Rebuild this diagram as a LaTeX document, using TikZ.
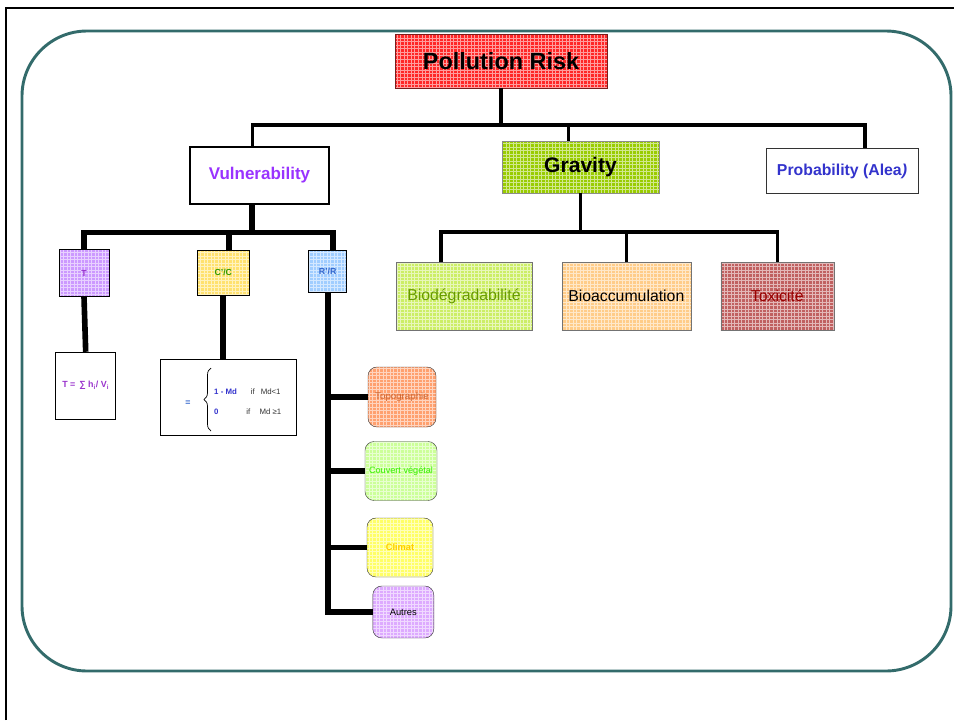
\documentclass[tikz,border=0pt]{standalone}
\usepackage{fontspec}
\setmainfont{Liberation Sans}
\usetikzlibrary{patterns,decorations.pathreplacing}

\definecolor{frameteal}{RGB}{51,107,107}
\definecolor{riskred}{RGB}{255,40,40}
\definecolor{riskedge}{RGB}{120,30,30}
\definecolor{gravgreen}{RGB}{153,204,0}
\definecolor{biogreen}{RGB}{204,238,102}
\definecolor{biotext}{RGB}{102,153,0}
\definecolor{accorange}{RGB}{255,204,136}
\definecolor{toxred}{RGB}{192,96,96}
\definecolor{toxtext}{RGB}{153,0,0}
\definecolor{tlilac}{RGB}{204,153,255}
\definecolor{ttext}{RGB}{153,51,204}
\definecolor{cyellow}{RGB}{255,225,110}
\definecolor{ctext}{RGB}{51,153,0}
\definecolor{rblue}{RGB}{160,205,255}
\definecolor{rtext}{RGB}{51,102,204}
\definecolor{topoorange}{RGB}{255,160,110}
\definecolor{topotext}{RGB}{204,102,51}
\definecolor{covgreen}{RGB}{204,255,153}
\definecolor{covtext}{RGB}{51,238,0}
\definecolor{climyellow}{RGB}{255,255,102}
\definecolor{climtext}{RGB}{255,204,0}
\definecolor{autlilac}{RGB}{221,170,255}
\definecolor{vulpurple}{RGB}{153,51,255}
\definecolor{probblue}{RGB}{51,51,204}
\definecolor{casesblue}{RGB}{51,51,204}

\newcommand{\pxu}{0.3mm}
\newcommand{\sz}[1]{\fontsize{#1}{#1}\selectfont}

\tikzset{
	box/.style 2 args={draw, minimum width=#1*\pxu, minimum height=#2*\pxu, inner sep=0pt, align=center},
	hatch/.style={preaction={fill=#1}, pattern=grid, pattern color=#1!45!white},
	leaf/.style={rounded corners=2.7mm, draw=black!75},
	thinlink/.style={line width=2.6pt},
	thicklink/.style={line width=4.8pt}
}

\begin{document}
\begin{tikzpicture}[x=0.3mm, y=-0.3mm]
	\useasboundingbox (0,0) rectangle (954,720);
	\draw[line width=1.7pt] (6,720) |- (954,8);
	\draw[frameteal, line width=2.5pt, rounded corners=19.5mm] (22,31) rectangle (951,671);

	\node[box={212}{54}, hatch=riskred, draw=riskedge, font=\bfseries\sz{20pt}] (risk) at (501,61) {Pollution Risk};
	\node[box={139}{57}, line width=1.7pt, text=vulpurple, font=\bfseries\sz{14.5pt}] (vul) at (259.5,175.5) {Vulnerability};
	\node[box={157}{52}, hatch=gravgreen, draw=black!45, font=\bfseries\sz{18pt}] (grav) at (580.5,167) {Gravity};
	\node[box={152}{45}, draw=black!80, text=probblue, font=\bfseries\sz{13.5pt}] (prob) at (842,171) {Probability (Alea\textit{)}};

	\node[box={136}{68}, hatch=biogreen, draw=black!55, text=biotext, font=\sz{13.5pt}] (bio) at (464,296) {Biodégradabilité};
	\node[box={129}{68}, hatch=accorange, draw=black!55, font=\sz{13.5pt}] (acc) at (626.3,296) {Bioaccumulation};
	\node[box={113}{68}, hatch=toxred, draw=black!55, text=toxtext, font=\sz{13.5pt}] (tox) at (777.3,296) {Toxicité};

	\node[box={50}{47}, hatch=tlilac, text=ttext, font=\bfseries\sz{7.5pt}] (tbox) at (84,273) {T};
	\node[box={52}{45}, hatch=cyellow, text=ctext, font=\bfseries\sz{7.5pt}] (cbox) at (223.3,272.5) {C'/C};
	\node[box={38}{42}, hatch=rblue, text=rtext, font=\bfseries\sz{7.5pt}] (rbox) at (327.7,271) {R'/R};

	\node[box={60}{67}, text=ttext, font=\bfseries\sz{7.6pt}] (tform) at (85.7,385.5) {T =\, ∑ h\textsubscript{i}/ V\textsubscript{i}};
	\node[box={136}{76}] (cform) at (228.7,397) {};
	\node[text=rtext, font=\bfseries\sz{7.5pt}] (ceq) at (188,403) {=};
	\draw[line width=0.6pt, decorate, decoration={brace, amplitude=2.1mm}] (211,431) -- (211,368);
	\node[anchor=west, inner sep=0pt, font=\sz{6.7pt}] (ccases) at (214,402.5) {\begin{tabular}{@{}l@{\hspace{12pt}}l@{}}
		\textcolor{casesblue}{\bfseries 1 - Md} & \textcolor{black!80}{if\hspace{5pt}Md<1}\\[10pt]
		\textcolor{casesblue}{\bfseries 0} & \hspace{-4pt}\textcolor{black!80}{if\hspace{8pt}Md ≥1}
	\end{tabular}};

	\node[box={68}{60}, leaf, hatch=topoorange, text=topotext, font=\sz{8.3pt}] (topo) at (402,397) {Topographie};
	\node[box={72}{59}, leaf, hatch=covgreen, text=covtext, font=\sz{7.8pt}] (couvert) at (401,471) {Couvert végétal};
	\node[box={66}{59}, leaf, hatch=climyellow, text=climtext, font=\bfseries\sz{7.9pt}] (climat) at (400,547.5) {Climat};
	\node[box={61}{52}, leaf, hatch=autlilac, font=\sz{8pt}] (autres) at (403.3,612) {Autres};

	\coordinate (rbus) at (0,125);
	\coordinate (gbus) at (0,232);
	\coordinate (vbus) at (0,232.5);

	\draw[thinlink] (risk.south) -- (risk.south |- rbus);
	\draw[thinlink] ([xshift=-2.2mm]vul.north) |- ([xshift=6.9mm]prob.north |- rbus) -- ([xshift=6.9mm]prob.north);
	\draw[thinlink] ([xshift=-3.6mm]grav.north) -- ([xshift=-3.6mm]grav.north |- rbus);

	\draw[thinlink] (grav.south) -- (grav.south |- gbus);
	\draw[thinlink] ([xshift=-6.9mm]bio.north) |- (tox.north |- gbus) -- (tox.north);
	\draw[thinlink] (acc.north) -- (acc.north |- gbus);

	\draw[thicklink] ([xshift=-2.2mm]vul.south) -- ([xshift=-2.2mm]vul.south |- vbus);
	\draw[thicklink] (tbox.north) |- ([xshift=1.5mm]rbox.north |- vbus) -- ([xshift=1.5mm]rbox.north);
	\draw[thicklink] ([xshift=1.8mm]cbox.north) -- ([xshift=1.8mm]cbox.north |- vbus);

	\draw[thicklink] (tbox.south) -- (tform.north);
	\draw[thicklink] (cbox.south) -- (cbox.south |- cform.north);

	\draw[thicklink] (rbox.south) |- (autres.west);
	\draw[thicklink] (rbox.south |- topo.west) -- (topo.west);
	\draw[thicklink] (rbox.south |- couvert.west) -- (couvert.west);
	\draw[thicklink] (rbox.south |- climat.west) -- (climat.west);
\end{tikzpicture}
\end{document}
